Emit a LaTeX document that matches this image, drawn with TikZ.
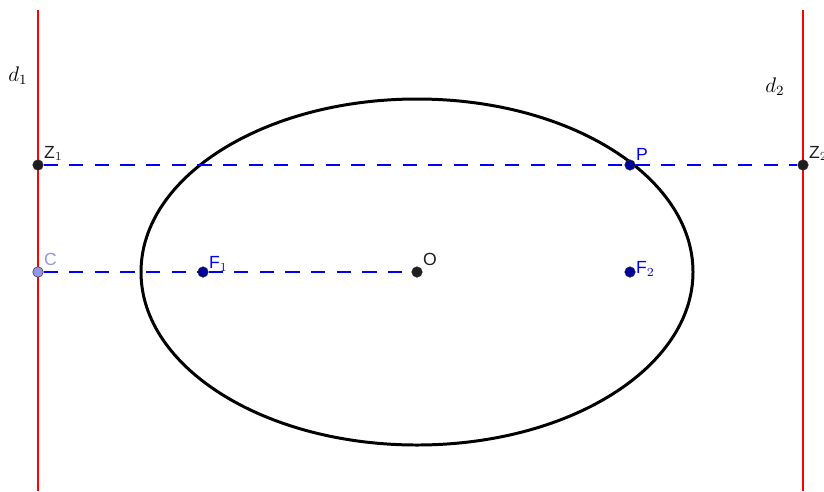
\documentclass[tikz,border=0pt]{standalone}
\usepackage{fontspec}
\newfontfamily\ggbfont{Liberation Sans}
\usepackage{tikz}
\usetikzlibrary{positioning}

\definecolor{ggbblue}{RGB}{0,0,255}
\definecolor{ggbdark}{RGB}{30,30,30}
\definecolor{ggbpunto}{RGB}{0,0,153}
\definecolor{ggbc}{RGB}{150,150,230}
\definecolor{ggbred}{RGB}{255,0,0}

\tikzset{
  punto/.style={circle,inner sep=0pt,minimum size=6pt,fill=#1,draw=black!80,line width=0.3pt},
  rotulo/.style={font=\ggbfont,text=#1,inner sep=1pt},
  directriz/.style={ggbred,line width=1.4pt},
  guion/.style={ggbblue,line width=1.1pt,dash pattern=on 8pt off 6.6pt}
}

\begin{document}
\begin{tikzpicture}[x=0.02cm,y=-0.02cm]
      \useasboundingbox (0,0) rectangle (824,491);
      \fill[white] (0,0) rectangle (824,491);
      % directrices
      \coordinate (d1a) at (38,10);
      \coordinate (d1b) at (38,491);
      \coordinate (d2a) at (803,10);
      \coordinate (d2b) at (803,491);
      \draw[directriz] (d1a) -- (d1b);
      \draw[directriz] (d2a) -- (d2b);
      \node[font=\large] at (18,76) {$d_1$};
      \node[font=\large] at (775,87) {$d_2$};
      % elipse
      \draw[line width=1.7pt] (417,272) ellipse [x radius=276,y radius=173];
      % puntos
      \node[punto=ggbdark] (Z1) at (38,165) {};
      \node[punto=ggbpunto] (P) at (630,165) {};
      \node[punto=ggbdark] (Z2) at (803,165) {};
      \node[punto=ggbc] (C) at (38,272) {};
      \node[punto=ggbpunto] (F1) at (203,272) {};
      \node[punto=ggbdark] (O) at (417,272) {};
      \node[punto=ggbpunto] (F2) at (630,272) {};
      % distancias
      \draw[guion] (Z1) -- (P);
      \draw[guion] (P) -- (Z2);
      \draw[guion] (C) -- (F1);
      \draw[guion] (F1) -- (O);
      % rotulos
      \node[rotulo=ggbdark,above right=-1pt and 0pt of Z1] {Z$_1$};
      \node[rotulo=ggbblue,above right=-1pt and 0pt of P] {P};
      \node[rotulo=ggbdark,above right=-1pt and 0pt of Z2] {Z$_2$};
      \node[rotulo=ggbc,above right=0pt and 0pt of C] {C};
      \node[rotulo=ggbblue,above right=-3pt and 0pt of F1] {F$_1$};
      \node[rotulo=ggbdark,above right=0pt and 0pt of O] {O};
      \node[rotulo=ggbblue,above right=-6pt and 0pt of F2] {F$_2$};
    \end{tikzpicture}
\end{document}
